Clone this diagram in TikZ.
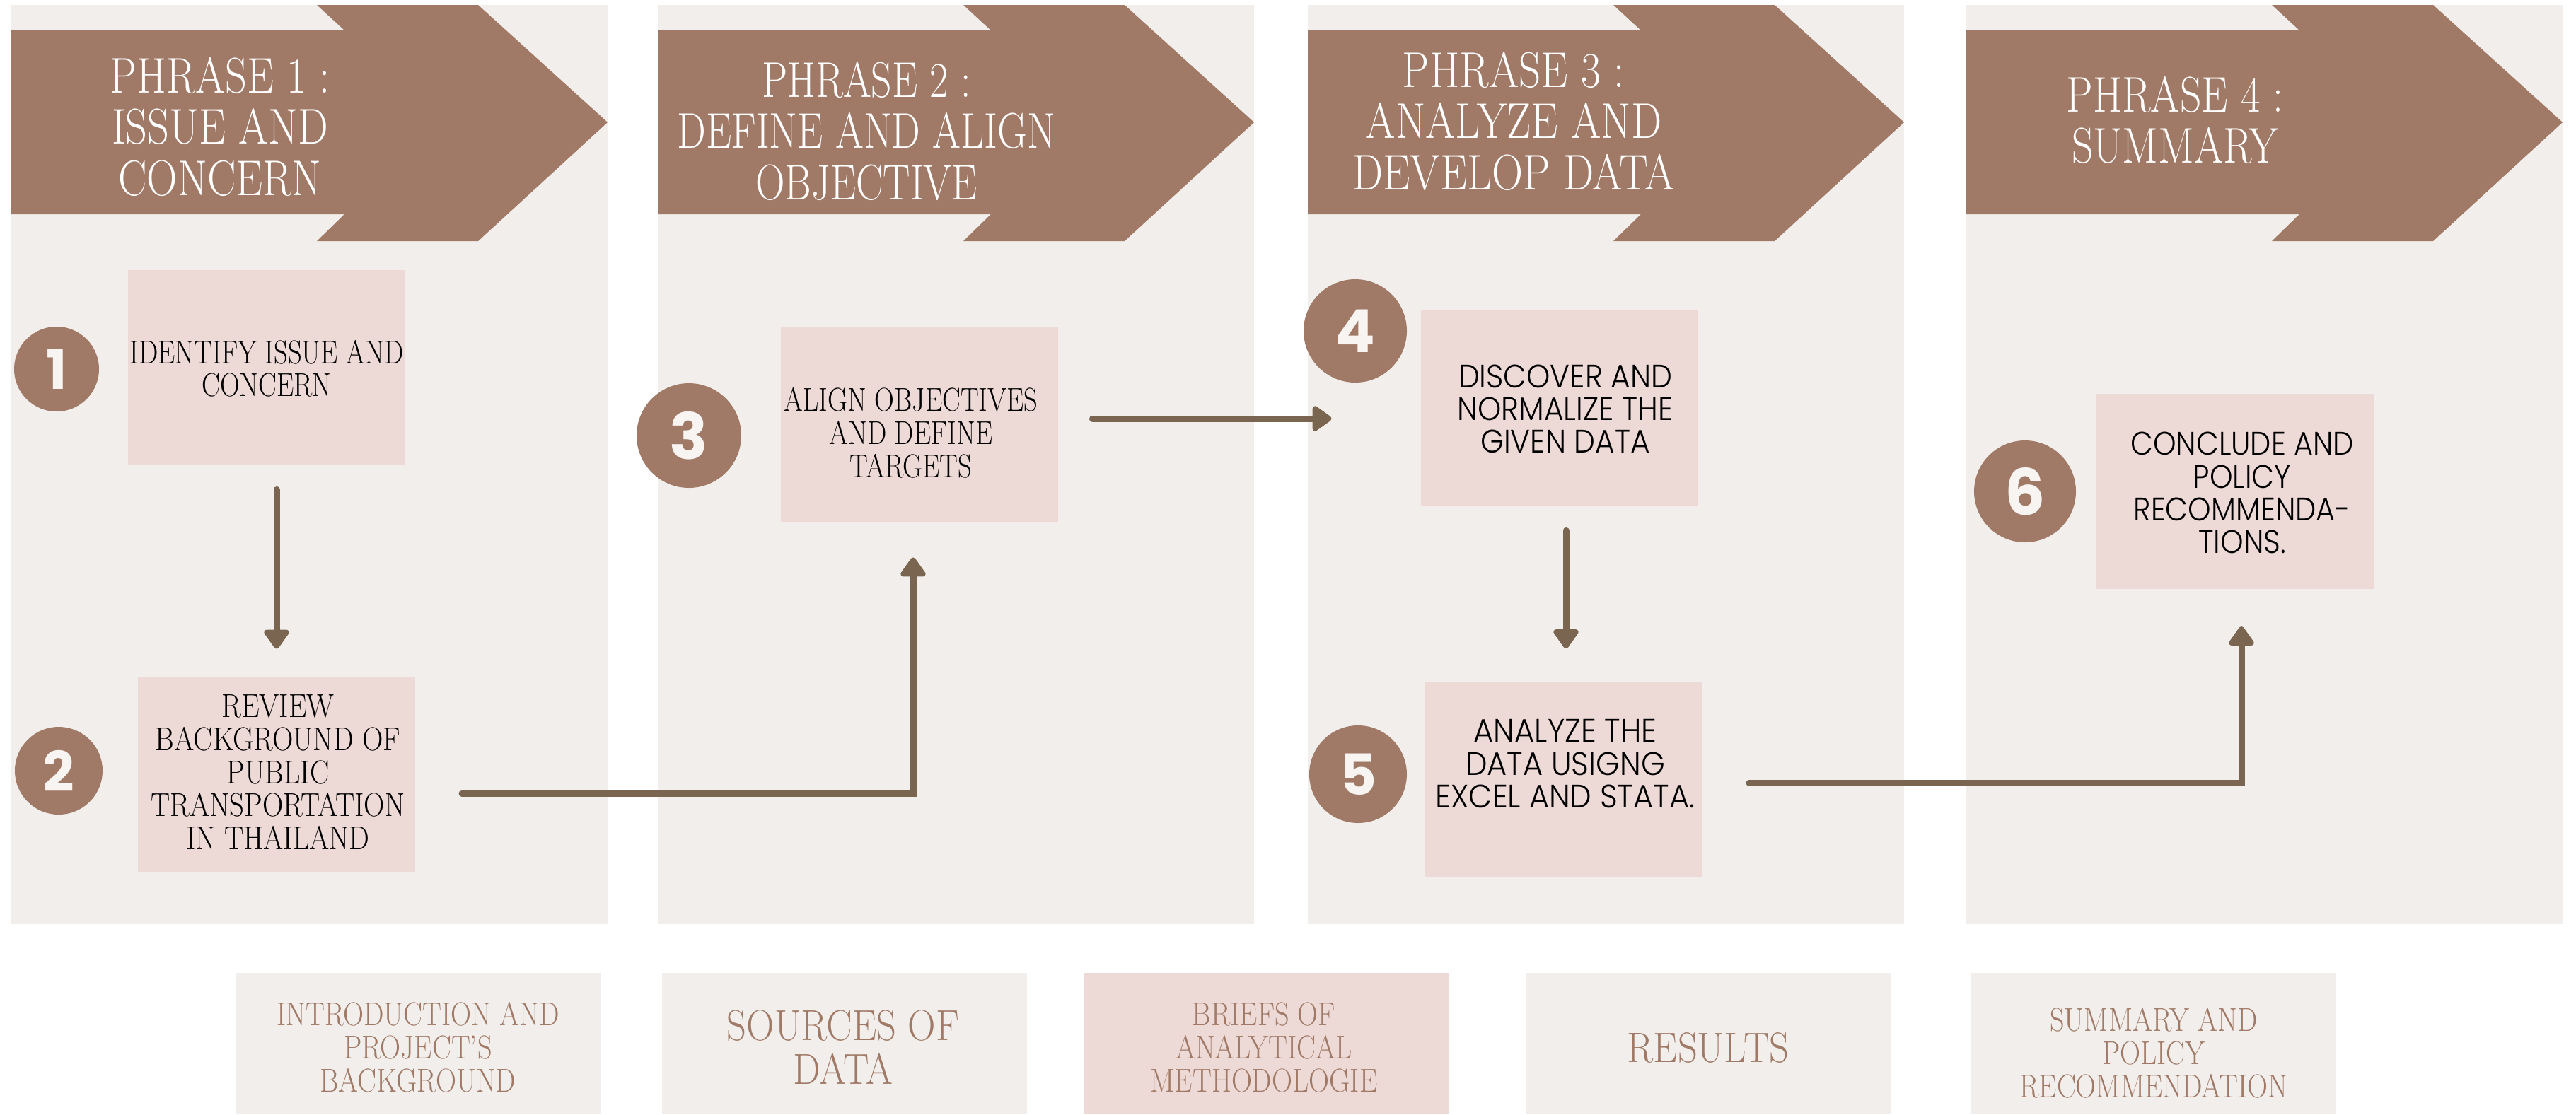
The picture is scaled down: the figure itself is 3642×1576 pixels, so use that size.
\documentclass[tikz,border=0pt]{standalone}
\usepackage{fontspec}
\usepackage{graphicx}
\usetikzlibrary{arrows.meta}
\newfontfamily\numfont{Poppins}
\IfFontExistsTF{Poppins Light}{\newfontfamily\geofont{Poppins Light}}{\newfontfamily\geofont{Poppins}}
\definecolor{panelbg}{HTML}{F2EEEB}
\definecolor{headbrown}{HTML}{A07A67}
\definecolor{boxpink}{HTML}{EDD9D5}
\definecolor{connbrown}{HTML}{7A6650}
\definecolor{numwhite}{HTML}{F8F4F1}
\newcommand{\cstack}[2]{\scalebox{#1}[1]{\begin{tabular}{@{}c@{}}#2\end{tabular}}}
\begin{document}
\begin{tikzpicture}[x=0.5pt,y=-0.5pt,
  headtxt/.style={text=white, inner sep=0pt, font=\fontsize{35.5}{36.25}\selectfont},
  stepbox/.style={fill=boxpink, inner sep=0pt, minimum width=196pt, minimum height=138pt},
  condtxt/.style={text=black, inner sep=0pt, font=\fontsize{23.4}{23}\selectfont},
  geotxt/.style={text=black, inner sep=0pt, font=\geofont\fontsize{23}{23}\selectfont},
  numc/.style={circle, fill=headbrown, text=numwhite, inner sep=0pt},
  legbox/.style={fill=panelbg, inner sep=0pt, minimum width=258pt, minimum height=100pt},
  legtxt/.style={text=headbrown, inner sep=0pt, font=\fontsize{23.4}{23}\selectfont},
  conn/.style={draw=connbrown, line width=4.5pt, line cap=round, -{Triangle[width=20pt,length=15pt,round]}}
]
\useasboundingbox (0,0) rectangle (3642,1576);
\fill[white] (0,0) rectangle (3642,1576);

% phase panels and header arrows
\foreach \L in {16,930,1849,2780}{
  \fill[panelbg] (\L,7) rectangle ({\L+843},1307);
  \fill[headbrown] (\L,43) -- ({\L+471},43) -- ({\L+432},7) -- ({\L+660},7)
     -- ({\L+843},173) -- ({\L+660},341) -- ({\L+432},341) -- ({\L+471},303)
     -- (\L,303) -- cycle;
}

% header texts
\node[headtxt] (h1) at (311,189) {\cstack{0.85}{PHRASE 1 :\\ISSUE AND\\CONCERN}};
\node[headtxt] (h2) at (1225,195) {\cstack{0.81}{PHRASE 2 :\\DEFINE AND ALIGN\\OBJECTIVE}};
\node[headtxt] (h3) at (2140,181) {\cstack{0.86}{PHRASE 3 :\\ANALYZE AND\\DEVELOP DATA}};
\node[headtxt] (h4) at (3075,180) {\cstack{0.84}{PHRASE 4 :\\SUMMARY}};

% step boxes
\node[stepbox] (b1) at (377,520) {};
\node[stepbox] (b2) at (391,1096) {};
\node[stepbox] (b3) at (1300,600) {};
\node[stepbox] (b4) at (2205,577) {};
\node[stepbox] (b5) at (2209.5,1101.5) {};
\node[stepbox] (b6) at (3160,694.5) {};

% step texts
\node[condtxt] (t1) at (377,528) {\cstack{0.825}{IDENTIFY ISSUE AND\\CONCERN}};
\node[condtxt] (t2) at (393,1099) {\cstack{0.87}{REVIEW\\BACKGROUND OF\\PUBLIC\\TRANSPORTATION\\IN THAILAND}};
\node[condtxt] (t3) at (1288,619) {\cstack{0.825}{ALIGN OBJECTIVES\\AND DEFINE\\TARGETS}};
\node[geotxt] (t4) at (2213,585) {\cstack{0.92}{DISCOVER AND\\NORMALIZE THE\\GIVEN DATA}};
\node[geotxt] (t5) at (2213,1087) {\cstack{0.94}{ANALYZE THE\\DATA USIGNG\\EXCEL AND STATA.}};
\node[geotxt] (t6) at (3170,704) {\cstack{0.9}{CONCLUDE AND\\POLICY\\RECOMMENDA-\\TIONS.}};

% number circles
\node[numc, minimum size=60pt, font=\numfont\bfseries\fontsize{39}{39}\selectfont] (n1) at (80,522) {1};
\node[numc, minimum size=62pt, font=\numfont\bfseries\fontsize{39}{39}\selectfont] (n2) at (83,1090) {2};
\node[numc, minimum size=74pt, font=\numfont\bfseries\fontsize{45}{45}\selectfont] (n3) at (974,616) {3};
\node[numc, minimum size=73pt, font=\numfont\bfseries\fontsize{42}{42}\selectfont] (n4) at (1916,468) {4};
\node[numc, minimum size=69pt, font=\numfont\bfseries\fontsize{40}{40}\selectfont] (n5) at (1920,1095) {5};
\node[numc, minimum size=72pt, font=\numfont\bfseries\fontsize{45}{45}\selectfont] (n6) at (2863,695) {6};

% connectors
\draw[conn, shorten <=17pt, shorten >=20pt] (b2.north |- b1.south) -- (b2.north);
\coordinate (k23) at (653,1122);
\draw[conn] (k23) -| ([xshift=-4.5pt,yshift=-25pt]b3.south);
\draw[conn] ([xshift=24pt,yshift=4pt]b3.east) -- ([xshift=-63pt,yshift=-7.5pt]b4.west);
\draw[conn, shorten <=17.5pt, shorten >=23pt] ([xshift=4.5pt]b4.south) -- ([xshift=4.5pt]b4.south |- b5.north);
\draw[conn] ([xshift=33.5pt,yshift=-2.75pt]b5.east) -| ([xshift=4.5pt,yshift=-26.5pt]b6.south);

% legend boxes
\node[legbox] (l1) at (591,1476) {};
\node[legbox] (l2) at (1194,1476) {};
\node[legbox, fill=boxpink] (l3) at (1791,1476) {};
\node[legbox] (l4) at (2416,1476) {};
\node[legbox] (l5) at (3045,1476) {};
\node[legtxt] (lt1) at (591,1488) {\cstack{0.86}{INTRODUCTION AND\\PROJECT'S\\BACKGROUND}};
\node[legtxt, font=\fontsize{30.7}{30}\selectfont] (lt2) at (1192,1490) {\cstack{0.89}{SOURCES OF\\DATA}};
\node[legtxt] (lt3) at (1787,1488) {\cstack{0.86}{BRIEFS OF\\ANALYTICAL\\METHODOLOGIE}};
\node[legtxt, font=\fontsize{30}{30}\selectfont] (lt4) at (2415,1490) {\cstack{0.91}{RESULTS}};
\node[legtxt] (lt5) at (3045,1496) {\cstack{0.86}{SUMMARY AND\\POLICY\\RECOMMENDATION}};
\end{tikzpicture}
\end{document}
